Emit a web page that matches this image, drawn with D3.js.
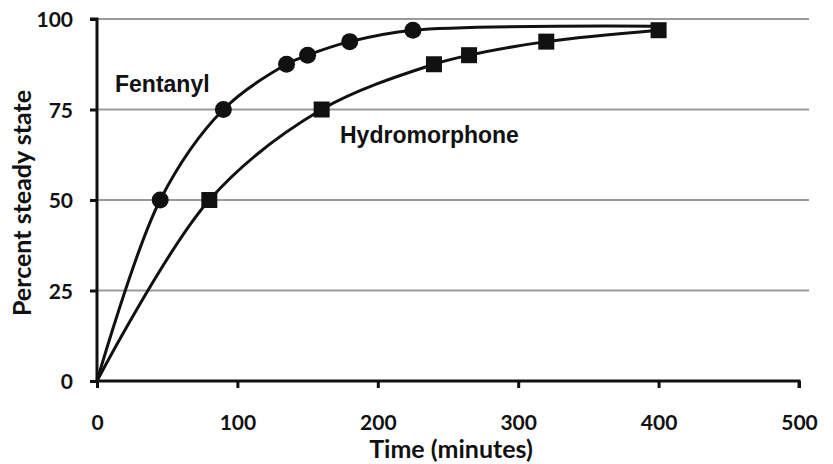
<!DOCTYPE html>
<html lang="en">
<head>
<meta charset="UTF-8">
<title>Percent steady state</title>
<style>
  body { margin: 0; background: #fff; }
  text { font-family: Lato, "Open Sans", sans-serif; font-weight: bold; fill: #111; }
  .lbl { font-family: "Liberation Sans", Arial, sans-serif; }
</style>
</head>
<body>
<svg id="chart" width="833" height="464"></svg>
<script src="https://d3js.org/d3.v7.min.js"></script>
<script>
// data
var fentanylTime = [0, 45, 90, 135, 150, 180, 225, 400];
var fentanylPct  = [0, 50, 75, 87.5, 90, 93.75, 96.9, 98];
var hydroTime = [0, 80, 160, 240, 265, 320, 400];
var hydroPct  = [0, 50, 75, 87.5, 90, 93.75, 96.9];
var xTicks = [0, 100, 200, 300, 400, 500];
var yTicks = [0, 25, 50, 75, 100];

var svg = d3.select("#chart");
var x = d3.scaleLinear().domain([0, 500]).range([97, 799]);
var y = d3.scaleLinear().domain([0, 100]).range([381, 19]);

// gridlines
svg.append("g").selectAll("line").data(yTicks.filter(function(d) { return d > 0; }))
  .enter().append("line")
  .attr("x1", x(0)).attr("x2", 809)
  .attr("y1", function(d) { return y(d); }).attr("y2", function(d) { return y(d); })
  .attr("stroke", "#9a9a9a").attr("stroke-width", 2);

// axes
var yAxis = svg.append("g").attr("transform", "translate(" + x(0) + ",0)")
  .call(d3.axisLeft(y).tickValues(yTicks).tickSize(7).tickPadding(17));
var xAxis = svg.append("g").attr("transform", "translate(0," + y(0) + ")")
  .call(d3.axisBottom(x).tickValues(xTicks).tickSize(7).tickPadding(27));
[yAxis, xAxis].forEach(function(a) {
  a.select(".domain").attr("stroke", "#111").attr("stroke-width", 3);
  a.selectAll(".tick line").attr("stroke", "#111").attr("stroke-width", 3);
  a.selectAll(".tick text").style("font-size", "21px").attr("fill", "#111");
});
yAxis.selectAll(".tick text").attr("dy", "0.36em");
xAxis.select(".domain").attr("d", "M" + x(0) + ",0H" + x(500) + "V7");
yAxis.select(".domain").attr("d", "M-7," + y(100) + "H0V" + y(0));

// curves (smoothed like the spreadsheet original)
var line = d3.line()
  .x(function(d) { return x(d[0]); })
  .y(function(d) { return y(d[1]); })
  .curve(d3.curveCatmullRom.alpha(0.5));

var fen = fentanylTime.map(function(t, i) { return [t, fentanylPct[i]]; });
var hyd = hydroTime.map(function(t, i) { return [t, hydroPct[i]]; });

svg.append("path").datum(fen).attr("d", line)
  .attr("fill", "none").attr("stroke", "#111").attr("stroke-width", 3);
svg.append("path").datum(hyd).attr("d", line)
  .attr("fill", "none").attr("stroke", "#111").attr("stroke-width", 3);

// markers
svg.append("g").selectAll("circle").data(fen.slice(1, -1))
  .enter().append("circle")
  .attr("cx", function(d) { return x(d[0]); })
  .attr("cy", function(d) { return y(d[1]); })
  .attr("r", 8.5).attr("fill", "#111");
svg.append("g").selectAll("rect").data(hyd.slice(1))
  .enter().append("rect")
  .attr("x", function(d) { return x(d[0]) - 8; })
  .attr("y", function(d) { return y(d[1]) - 8; })
  .attr("width", 16).attr("height", 16).attr("fill", "#111");

// series labels
svg.append("text").attr("class", "lbl").attr("x", 115).attr("y", 92)
  .style("font-size", "23px").text("Fentanyl");
svg.append("text").attr("class", "lbl").attr("x", 340).attr("y", 143)
  .style("font-size", "23px").text("Hydromorphone");

// axis titles
svg.append("text").attr("x", 451).attr("y", 458)
  .attr("text-anchor", "middle").style("font-size", "25px").text("Time (minutes)");
svg.append("text").attr("transform", "translate(31,203) rotate(-90)")
  .attr("text-anchor", "middle").style("font-size", "25px").text("Percent steady state");
</script>
</body>
</html>
